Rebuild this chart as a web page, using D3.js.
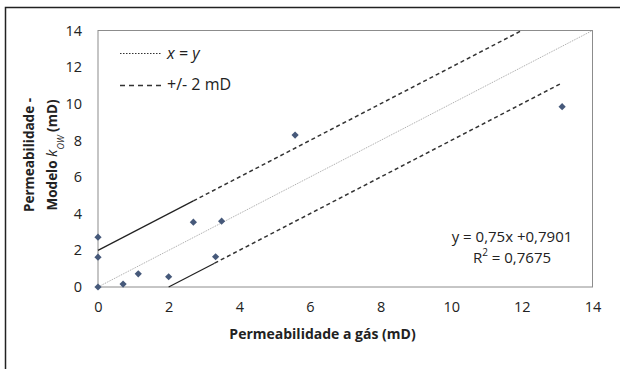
<!DOCTYPE html>
<html>
<head>
<meta charset="utf-8">
<script src="https://cdn.jsdelivr.net/npm/d3@7/dist/d3.min.js"></script>
<style>
  body { margin: 0; background: #fff; }
  svg { display: block; font-family: "Open Sans", "Liberation Sans", sans-serif; }
</style>
</head>
<body>
<div id="chart"></div>
<script>
// ----------------------------------------
// Data
// ----------------------------------------
const gasPerm   = [0, 0, 0, 0.71, 1.14, 2.0, 2.7, 3.5, 3.33, 5.58, 13.14];
const modelPerm = [0, 1.63, 2.72, 0.16, 0.72, 0.56, 3.54, 3.59, 1.65, 8.29, 9.84];

const xTicks = [0, 2, 4, 6, 8, 10, 12, 14];
const yTicks = [0, 2, 4, 6, 8, 10, 12, 14];

// reference lines (x, y pairs)
const identityLine = [[0, 0], [14, 14]];
const upperSolid   = [[0, 2], [2.7, 4.7]];
const upperDashed  = [[2.7, 4.7], [12, 14]];
const lowerSolid   = [[2, 0], [3.3, 1.3]];
const lowerDashed  = [[3.3, 1.3], [13.14, 11.14]];

const equationText = "y = 0,75x +0,7901";
const r2Text = "0,7675";

// ----------------------------------------
// Setup
// ----------------------------------------
const width = 620, height = 369;
const margin = {top: 30.5, right: 27.5, bottom: 82, left: 98};

const svg = d3.select("#chart").append("svg")
    .attr("width", width)
    .attr("height", height);

// outer chart border
svg.append("rect")
    .attr("x", 5.5).attr("y", 7.5)
    .attr("width", width + 10).attr("height", height + 10)
    .attr("fill", "none")
    .attr("stroke", "#222")
    .attr("stroke-width", 1.5);

const x = d3.scaleLinear().domain([0, 14]).range([margin.left, width - margin.right]);
const y = d3.scaleLinear().domain([0, 14]).range([height - margin.bottom, margin.top]);

// plot area border
svg.append("rect")
    .attr("x", x(0)).attr("y", y(14))
    .attr("width", x(14) - x(0)).attr("height", y(0) - y(14))
    .attr("fill", "none")
    .attr("stroke", "#8c8c8c")
    .attr("stroke-width", 1);

// Axes (labels only)
const xAxis = svg.append("g")
    .attr("transform", `translate(0,${y(0)})`)
    .call(d3.axisBottom(x).tickValues(xTicks).tickSize(0).tickPadding(15).tickFormat(d3.format("d")));
const yAxis = svg.append("g")
    .attr("transform", `translate(${x(0)},0)`)
    .call(d3.axisLeft(y).tickValues(yTicks).tickSize(0).tickPadding(16).tickFormat(d3.format("d")));

[xAxis, yAxis].forEach(a => {
    a.select(".domain").remove();
    a.selectAll("text")
        .attr("font-family", "'Open Sans', sans-serif")
        .attr("font-size", 14.5)
        .attr("fill", "#222");
});

// ----------------------------------------
// Lines
// ----------------------------------------
const line = d3.line().x(d => x(d[0])).y(d => y(d[1]));

svg.append("path").datum(identityLine)
    .attr("d", line).attr("fill", "none")
    .attr("stroke", "#9a9a9a").attr("stroke-width", 0.9)
    .attr("stroke-dasharray", "1,1");

[upperSolid, lowerSolid].forEach(seg => {
    svg.append("path").datum(seg)
        .attr("d", line).attr("fill", "none")
        .attr("stroke", "#222").attr("stroke-width", 1.2);
});

[upperDashed, lowerDashed].forEach(seg => {
    svg.append("path").datum(seg)
        .attr("d", line).attr("fill", "none")
        .attr("stroke", "#333").attr("stroke-width", 1.5)
        .attr("stroke-dasharray", "4,3");
});

// points (diamonds = rotated squares)
svg.selectAll("path.pt")
    .data(gasPerm.map((g, i) => [g, modelPerm[i]]))
    .enter().append("path")
    .attr("class", "pt")
    .attr("d", d3.symbol(d3.symbolSquare, 26))
    .attr("transform", d => `translate(${x(d[0])},${y(d[1])}) rotate(45)`)
    .attr("fill", "#46597a");

// ----------------------------------------
// Legend
// ----------------------------------------
const legend = svg.append("g");
legend.append("line")
    .attr("x1", 120).attr("x2", 161).attr("y1", 53.5).attr("y2", 53.5)
    .attr("stroke", "#333").attr("stroke-width", 1.2)
    .attr("stroke-dasharray", "1.5,1.5");
legend.append("text")
    .attr("x", 167).attr("y", 59)
    .attr("font-size", 16).attr("font-style", "italic").attr("fill", "#222")
    .text("x = y");
legend.append("line")
    .attr("x1", 120).attr("x2", 163).attr("y1", 85.5).attr("y2", 85.5)
    .attr("stroke", "#333").attr("stroke-width", 1.5)
    .attr("stroke-dasharray", "5,4");
legend.append("text")
    .attr("x", 167).attr("y", 90)
    .attr("font-size", 16).attr("fill", "#222")
    .text("+/- 2 mD");

// regression text
svg.append("text")
    .attr("x", 512).attr("y", 242)
    .attr("text-anchor", "middle")
    .attr("font-size", 15).attr("fill", "#222")
    .text(equationText);
const r2 = svg.append("text")
    .attr("x", 512).attr("y", 262.5)
    .attr("text-anchor", "middle")
    .attr("font-size", 15).attr("fill", "#222");
r2.append("tspan").text("R");
r2.append("tspan").attr("baseline-shift", "super").attr("font-size", 10).text("2");
r2.append("tspan").text(" = " + r2Text);

// ----------------------------------------
// Axis titles
// ----------------------------------------
svg.append("text")
    .attr("x", 322.5).attr("y", 339)
    .attr("text-anchor", "middle")
    .attr("font-size", 14).attr("font-weight", "bold").attr("fill", "#222")
    .text("Permeabilidade a gás (mD)");

const yTitle = svg.append("g")
    .attr("transform", `translate(0,155) rotate(-90)`);
yTitle.append("text")
    .attr("x", 0).attr("y", 34)
    .attr("text-anchor", "middle")
    .attr("font-size", 13.5).attr("font-weight", "bold").attr("fill", "#222")
    .text("Permeabilidade -");
const t2 = yTitle.append("text")
    .attr("x", 0).attr("y", 57)
    .attr("text-anchor", "middle")
    .attr("font-size", 13.5).attr("font-weight", "bold").attr("fill", "#222");
t2.append("tspan").text("Modelo  ");
t2.append("tspan").attr("font-style", "italic").attr("font-weight", "normal").attr("font-size", 15).text("k");
t2.append("tspan").attr("baseline-shift", "sub").attr("font-size", 9).attr("font-style", "italic").attr("font-weight", "normal").text("OW");
t2.append("tspan").text(" (mD)");
</script>
</body>
</html>
